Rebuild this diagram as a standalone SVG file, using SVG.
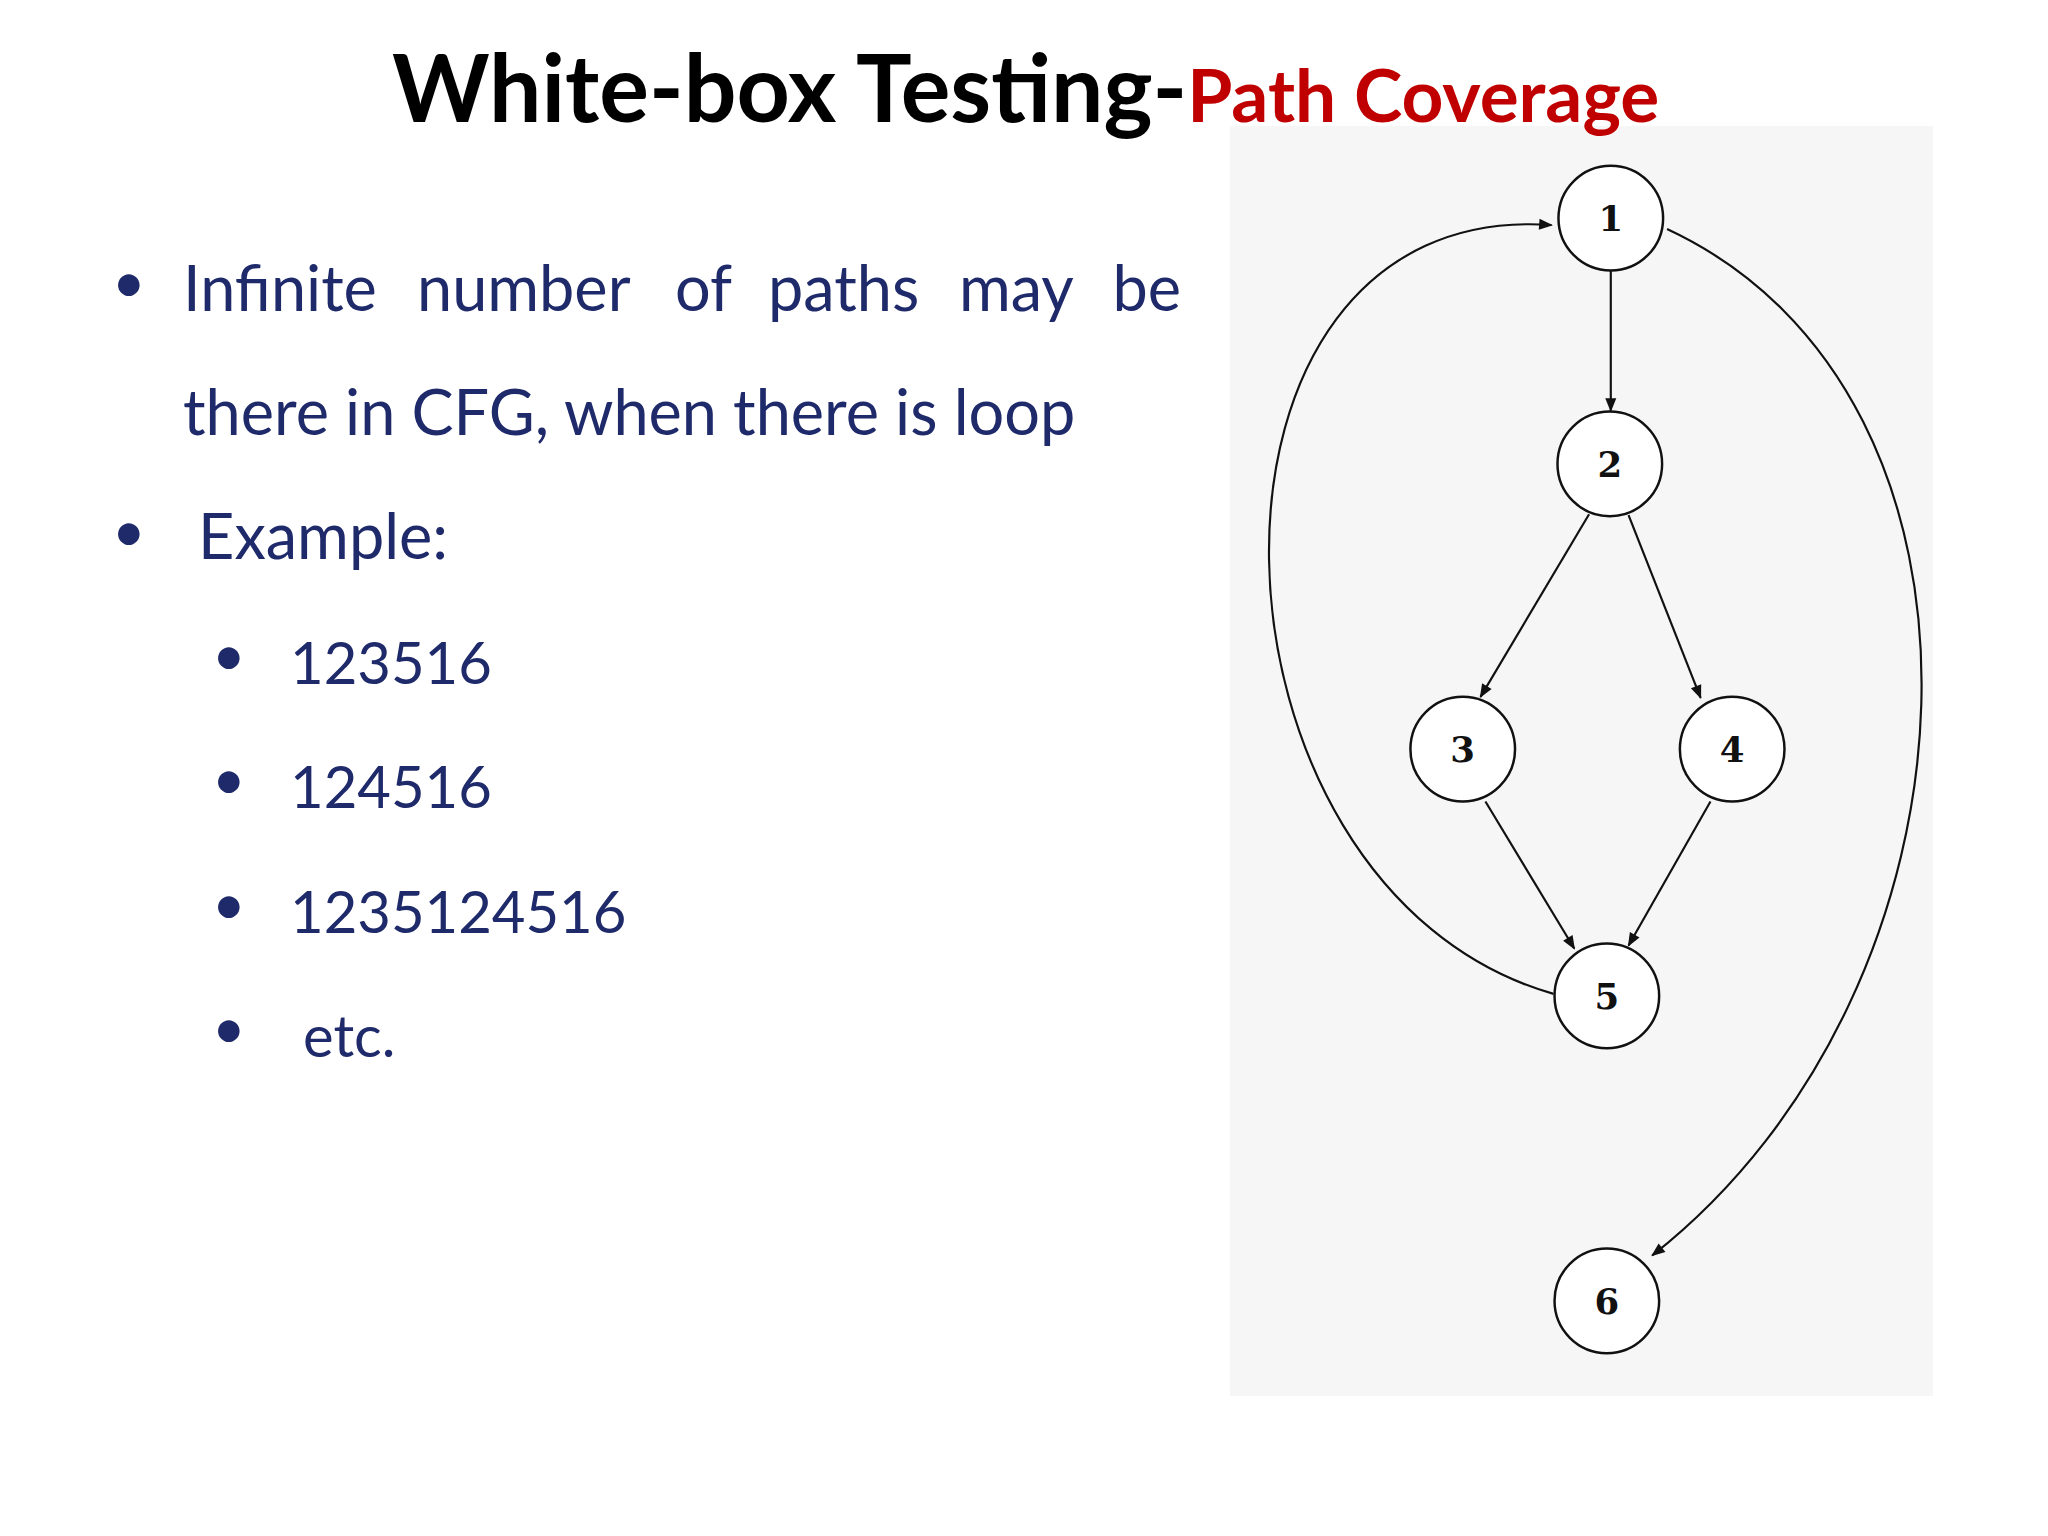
<svg xmlns="http://www.w3.org/2000/svg" width="2048" height="1536" viewBox="0 0 2048 1536">
<style>
.t{font-family:"Lato","Liberation Sans",sans-serif;fill:#1f2a6b;font-size:58px}
.b{font-size:63px}
.n ellipse{fill:#fff;stroke:#111;stroke-width:2.5}
.n text{font-family:"DejaVu Serif","Liberation Serif",serif;font-weight:bold;font-size:36px;fill:#111;text-anchor:middle}
.e path{fill:none;stroke:#111;stroke-width:2.2;marker-end:url(#a)}
</style>
<defs><marker id="a" viewBox="0 0 10 10" refX="9" refY="5" markerWidth="18" markerHeight="14" orient="auto" markerUnits="userSpaceOnUse"><path d="M0,1 L10,5 L0,9 z" fill="#111"/></marker></defs>
<rect width="2048" height="1536" fill="#fff"/>
<rect x="1230" y="126" width="703" height="1270" fill="#f6f6f6"/>
<text x="392" y="122" font-family="Lato,'Liberation Sans',sans-serif" font-weight="bold" font-size="93" fill="#000">White-box Testing-<tspan fill="#c00000" font-size="73">Path Coverage</tspan></text>
<g class="t">
<text x="112" y="303">•</text>
<text class="b" x="183" y="311">Infinite</text>
<text class="b" x="417" y="311">number</text>
<text class="b" x="675" y="311">of</text>
<text class="b" x="768" y="311">paths</text>
<text class="b" x="959" y="311">may</text>
<text class="b" x="1181" y="311" text-anchor="end">be</text>
<text class="b" x="183" y="435">there in CFG, when there is loop</text>
<text x="112" y="552">•</text>
<text class="b" x="198" y="559">Example:</text>
<text x="212" y="676">•</text><text x="290" y="684">123516</text>
<text x="212" y="800">•</text><text x="290" y="808">124516</text>
<text x="212" y="925">•</text><text x="290" y="933">1235124516</text>
<text x="212" y="1049">•</text><text x="303" y="1057">etc.</text>
</g>
<g transform="scale(0.987)">
<g class="e">
<path d="M1632,274 L1632,416"/>
<path d="M1610,521 L1500,706"/>
<path d="M1650,522 L1723,707"/>
<path d="M1505,812 L1595,961"/>
<path d="M1733,812 L1650,958"/>
<path d="M1574,1007 C1200,900 1180,200 1572,228"/>
<path d="M1689,232 C2050,400 2020,1000 1674,1272"/>
</g>
<g id="n1" class="n"><ellipse cx="1632" cy="221" rx="53" ry="53"/><text x="1632" y="234">1</text></g>
<g id="n2" class="n"><ellipse cx="1631" cy="470" rx="53" ry="53"/><text x="1631" y="483">2</text></g>
<g id="n3" class="n"><ellipse cx="1482" cy="759" rx="53" ry="53"/><text x="1482" y="772">3</text></g>
<g id="n4" class="n"><ellipse cx="1755" cy="759" rx="53" ry="53"/><text x="1755" y="772">4</text></g>
<g id="n5" class="n"><ellipse cx="1628" cy="1009" rx="53" ry="53"/><text x="1628" y="1022">5</text></g>
<g id="n6" class="n"><ellipse cx="1628" cy="1318" rx="53" ry="53"/><text x="1628" y="1331">6</text></g>
</g>
</svg>
